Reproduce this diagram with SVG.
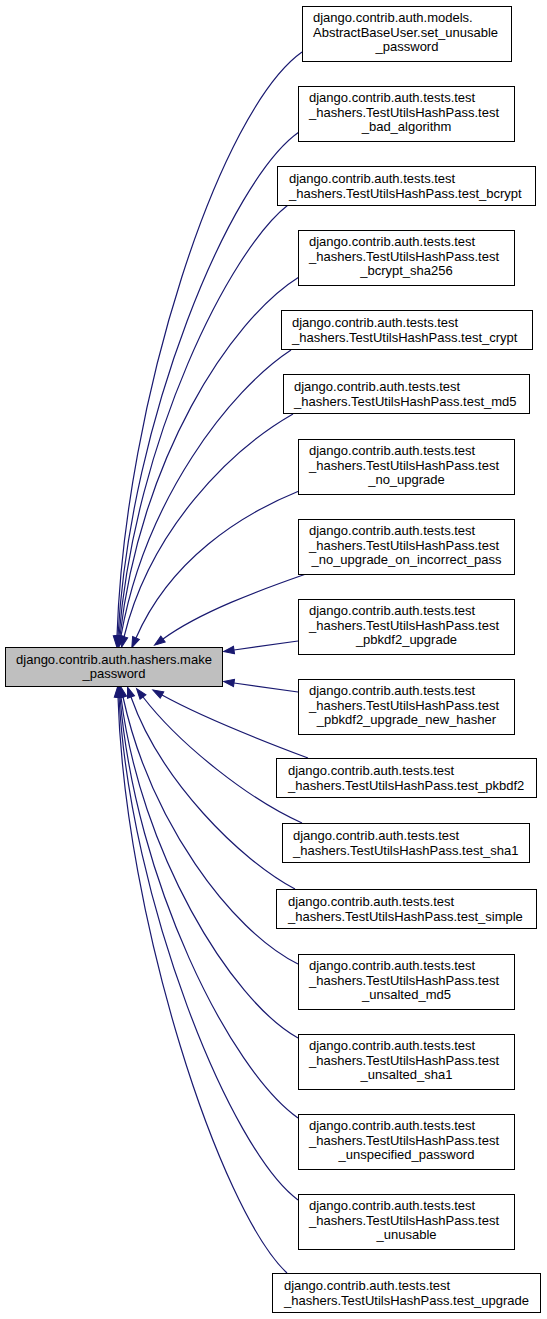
<svg xmlns="http://www.w3.org/2000/svg" width="547" height="1319" viewBox="0 0 547 1319">
<style>
text{font-family:"Liberation Sans",Arial,sans-serif;font-size:13px;fill:#000}
.c{text-anchor:middle}
.n rect{fill:#fff;stroke:#000;stroke-width:1}
#main rect{fill:#bfbfbf}
.e path{fill:none;stroke:#191970;stroke-width:1.2;marker-end:url(#ah)}
</style>
<defs>
<marker id="ah" markerUnits="userSpaceOnUse" markerWidth="12" markerHeight="10" refX="0" refY="4" orient="auto" viewBox="0 0 12 8" overflow="visible">
<path d="M0,0.3 L10.5,4 L0,7.7 z" fill="#191970" stroke="#191970" stroke-width="1"/>
</marker>
</defs>
<rect width="547" height="1319" fill="#fff"/>
<g class="e" id="edges">
<path d="M302,52 C220,110 125,400 117,636"/>
<path d="M299,132 C230,180 130,420 118,636"/>
<path d="M288,205 C230,250 135,440 119,636"/>
<path d="M299,277 C230,320 140,460 120,636"/>
<path d="M291,350 C230,390 145,500 121,636"/>
<path d="M293,414 C230,450 150,530 124,637"/>
<path d="M299,491 C240,515 170,560 136,638"/>
<path d="M306,574 C260,590 200,612 163,639"/>
<path d="M298,641 L234,650"/>
<path d="M298,692 L234,683"/>
<path d="M308,758 C260,740 200,716 162,695"/>
<path d="M302,823 C250,800 180,745 143,697"/>
<path d="M295,889 C240,860 160,780 131,697"/>
<path d="M298,964 C230,930 150,820 123,697"/>
<path d="M298,1038 C230,1000 140,850 121,697"/>
<path d="M298,1118 C230,1070 135,880 120,697"/>
<path d="M298,1200 C230,1150 130,900 119,697"/>
<path d="M287,1273 C220,1210 125,920 118,697"/>
</g>
<g class="n" id="main"><rect x="5.5" y="647.5" width="217" height="39"/><text class="c" x="114" y="663.5">django.contrib.auth.hashers.make</text><text class="c" x="114" y="678">_password</text></g>
<g class="n" id="n1"><rect x="302.5" y="6.5" width="209" height="55"/><text x="313" y="22">django.contrib.auth.models.</text><text x="313" y="36.5">AbstractBaseUser.set_unusable</text><text class="c" x="407" y="51">_password</text></g>
<g class="n" id="n2"><rect x="298.5" y="86.5" width="216" height="55"/><text x="309" y="102">django.contrib.auth.tests.test</text><text x="309" y="116.5">_hashers.TestUtilsHashPass.test</text><text class="c" x="406.5" y="131">_bad_algorithm</text></g>
<g class="n" id="n3"><rect x="277.5" y="166.5" width="258" height="39"/><text x="289" y="183">django.contrib.auth.tests.test</text><text x="289" y="197.5">_hashers.TestUtilsHashPass.test_bcrypt</text></g>
<g class="n" id="n4"><rect x="298.5" y="230.5" width="216" height="55"/><text x="309" y="246">django.contrib.auth.tests.test</text><text x="309" y="260.5">_hashers.TestUtilsHashPass.test</text><text class="c" x="406.5" y="275">_bcrypt_sha256</text></g>
<g class="n" id="n5"><rect x="281.5" y="310.5" width="251" height="39"/><text x="292" y="327">django.contrib.auth.tests.test</text><text x="292" y="341.5">_hashers.TestUtilsHashPass.test_crypt</text></g>
<g class="n" id="n6"><rect x="283.5" y="374.5" width="246" height="39"/><text x="294" y="391">django.contrib.auth.tests.test</text><text x="294" y="405.5">_hashers.TestUtilsHashPass.test_md5</text></g>
<g class="n" id="n7"><rect x="298.5" y="439.5" width="216" height="55"/><text x="309" y="455">django.contrib.auth.tests.test</text><text x="309" y="469.5">_hashers.TestUtilsHashPass.test</text><text class="c" x="406.5" y="484">_no_upgrade</text></g>
<g class="n" id="n8"><rect x="298.5" y="519.5" width="216" height="55"/><text x="309" y="535">django.contrib.auth.tests.test</text><text x="309" y="549.5">_hashers.TestUtilsHashPass.test</text><text class="c" x="406.5" y="564">_no_upgrade_on_incorrect_pass</text></g>
<g class="n" id="n9"><rect x="298.5" y="599.5" width="216" height="55"/><text x="309" y="615">django.contrib.auth.tests.test</text><text x="309" y="629.5">_hashers.TestUtilsHashPass.test</text><text class="c" x="406.5" y="644">_pbkdf2_upgrade</text></g>
<g class="n" id="n10"><rect x="298.5" y="679.5" width="216" height="55"/><text x="309" y="695">django.contrib.auth.tests.test</text><text x="309" y="709.5">_hashers.TestUtilsHashPass.test</text><text class="c" x="406.5" y="724">_pbkdf2_upgrade_new_hasher</text></g>
<g class="n" id="n11"><rect x="276.5" y="758.5" width="260" height="39"/><text x="288" y="775">django.contrib.auth.tests.test</text><text x="288" y="789.5">_hashers.TestUtilsHashPass.test_pkbdf2</text></g>
<g class="n" id="n12"><rect x="282.5" y="823.5" width="247" height="39"/><text x="293" y="840">django.contrib.auth.tests.test</text><text x="293" y="854.5">_hashers.TestUtilsHashPass.test_sha1</text></g>
<g class="n" id="n13"><rect x="276.5" y="889.5" width="260" height="39"/><text x="288" y="906">django.contrib.auth.tests.test</text><text x="288" y="920.5">_hashers.TestUtilsHashPass.test_simple</text></g>
<g class="n" id="n14"><rect x="298.5" y="954.5" width="216" height="55"/><text x="309" y="970">django.contrib.auth.tests.test</text><text x="309" y="984.5">_hashers.TestUtilsHashPass.test</text><text class="c" x="406.5" y="999">_unsalted_md5</text></g>
<g class="n" id="n15"><rect x="298.5" y="1034.5" width="216" height="55"/><text x="309" y="1050">django.contrib.auth.tests.test</text><text x="309" y="1064.5">_hashers.TestUtilsHashPass.test</text><text class="c" x="406.5" y="1079">_unsalted_sha1</text></g>
<g class="n" id="n16"><rect x="298.5" y="1114.5" width="216" height="55"/><text x="309" y="1130">django.contrib.auth.tests.test</text><text x="309" y="1144.5">_hashers.TestUtilsHashPass.test</text><text class="c" x="406.5" y="1159">_unspecified_password</text></g>
<g class="n" id="n17"><rect x="298.5" y="1194.5" width="216" height="55"/><text x="309" y="1210">django.contrib.auth.tests.test</text><text x="309" y="1224.5">_hashers.TestUtilsHashPass.test</text><text class="c" x="406.5" y="1239">_unusable</text></g>
<g class="n" id="n18"><rect x="272.5" y="1273.5" width="268" height="39"/><text x="284" y="1290">django.contrib.auth.tests.test</text><text x="284" y="1304.5">_hashers.TestUtilsHashPass.test_upgrade</text></g>
</svg>
